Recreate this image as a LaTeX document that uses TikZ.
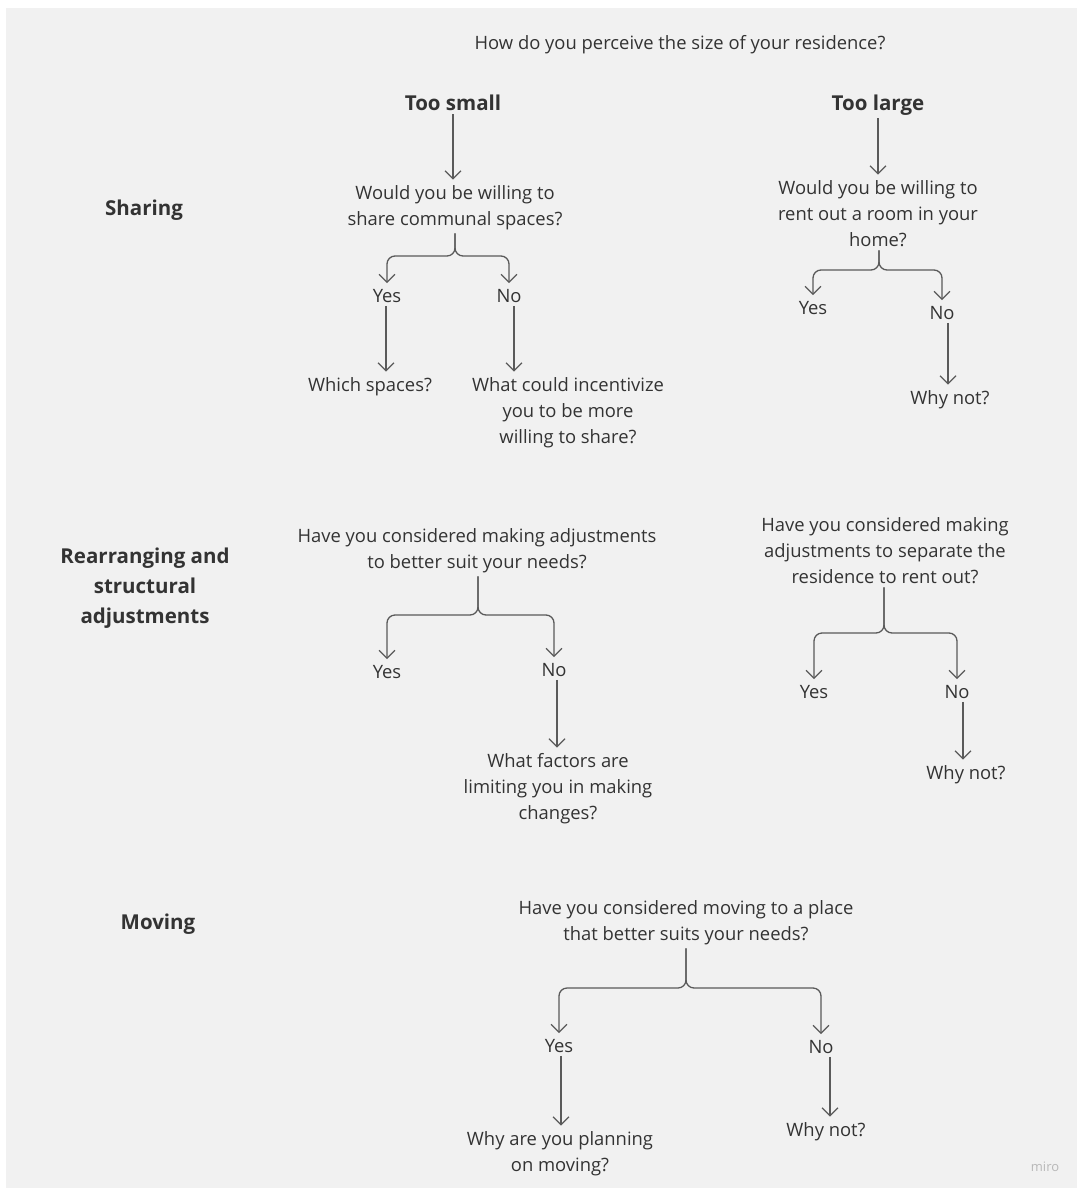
\documentclass[tikz,border=0pt]{standalone}
\usepackage{fontspec}
\setmainfont{Open Sans}
\usetikzlibrary{arrows.meta}
\definecolor{paper}{HTML}{F1F1F1}
\definecolor{ink}{HTML}{333333}
\definecolor{wire}{HTML}{5A5A5A}
\definecolor{brand}{HTML}{B8B8B8}
\begin{document}
\begin{tikzpicture}[x=1pt,y=-1pt,
  txt/.style={text=ink,align=center,inner sep=3pt,yshift=-4pt,font=\fontsize{18.4}{26}\selectfont},
  head/.style={text=ink,align=center,inner sep=3pt,yshift=-4pt,font=\fontsize{20.5}{30}\selectfont\bfseries},
  arr/.style={draw=wire,line width=1.3pt,shorten >=3pt,-{Straight Barb[length=8pt,width=16pt,line width=1.2pt]}},
  fork/.style={arr,rounded corners=8pt}]
\useasboundingbox (0,0) rectangle (1079,1189);
\fill[white] (0,0) rectangle (1079,1189);
\fill[paper] (6,8) rectangle (1077,1188);

% title and the two answers
\node[txt] (title) at (680,41) {How do you perceive the size of your residence?};
\node[head] (small) at (453,99) {Too small};
\node[head] (large) at (878,101) {Too large};

% row labels
\node[head] (sharing) at (144,206) {Sharing};
\node[head] (rearr) at (145,584) {Rearranging and\\structural\\adjustments};
\node[head] (moving) at (158,920) {Moving};

% ---- Sharing, too small
\node[txt] (q1) at (455,204) {Would you be willing to\\share communal spaces?};
\node[txt] (y1) at (387,292) {Yes};
\node[txt] (n1) at (509,292) {No};
\node[txt] (a1) at (370,383) {Which spaces?};
\node[txt] (b1) at (568,409) {What could incentivize\\you to be more\\willing to share?};
\coordinate (j1) at (455,256);
\draw[arr] (small.south) -- (small.south |- q1.north);
\draw[fork] (j1 |- q1.south) -- (j1) -| (y1.north);
\draw[fork] (j1 |- q1.south) -- (j1) -| (n1.north);
\draw[arr] (y1.south -| 386,0) -- (386,0 |- a1.north);
\draw[arr] (n1.south -| 514,0) -- (514,0 |- b1.north);

% ---- Sharing, too large
\node[txt] (q2) at (878,210) {Would you be willing to\\rent out a room in your\\home?};
\node[txt] (y2) at (813,304) {Yes};
\node[txt] (n2) at (942,309) {No};
\node[txt] (c2) at (950,396) {Why not?};
\coordinate (j2) at (879,270);
\draw[arr] (large.south) -- (large.south |- q2.north);
\draw[fork] (j2 |- q2.south) -- (j2) -| (y2.north);
\draw[fork] (j2 |- q2.south) -- (j2) -| (n2.north);
\draw[arr] (n2.south -| 948,0) -- (948,0 |- c2.north);

% ---- Rearranging, too small
\node[txt] (q3) at (477,547) {Have you considered making adjustments\\to better suit your needs?};
\node[txt] (y3) at (387,668) {Yes};
\node[txt] (n3) at (554,666) {No};
\node[txt] (c3) at (558,785) {What factors are\\limiting you in making\\changes?};
\coordinate (j3) at (478,615);
\draw[fork] (j3 |- q3.south) -- (j3) -| (y3.north);
\draw[fork] (j3 |- q3.south) -- (j3) -| (n3.north);
\draw[arr] (n3.south -| 557,0) -- (557,0 |- c3.north);

% ---- Rearranging, too large
\node[txt] (q4) at (885,547) {Have you considered making\\adjustments to separate the\\residence to rent out?};
\node[txt] (y4) at (814,688) {Yes};
\node[txt] (n4) at (957,688) {No};
\node[txt] (c4) at (966,771) {Why not?};
\coordinate (j4) at (884,633);
\draw[fork] (j4 |- q4.south) -- (j4) -| (y4.north);
\draw[fork] (j4 |- q4.south) -- (j4) -| (n4.north);
\draw[arr] (n4.south -| 963,0) -- (963,0 |- c4.north);

% ---- Moving
\node[txt] (q5) at (686,919) {Have you considered moving to a place\\that better suits your needs?};
\node[txt] (y5) at (559,1042) {Yes};
\node[txt] (n5) at (821,1043) {No};
\node[txt] (c5) at (560,1150) {Why are you planning\\on moving?};
\node[txt] (d5) at (826,1128) {Why not?};
\coordinate (j5) at (686,988);
\draw[fork] (j5 |- q5.south) -- (j5) -| (y5.north);
\draw[fork] (j5 |- q5.south) -- (j5) -| (n5.north);
\draw[arr] (y5.south -| 561,0) -- (561,0 |- c5.north);
\draw[arr] (n5.south -| 830,0) -- (830,0 |- d5.north);

\node[text=brand,font=\fontsize{13}{15}\selectfont] (mark) at (1045,1167) {miro};
\end{tikzpicture}
\end{document}
